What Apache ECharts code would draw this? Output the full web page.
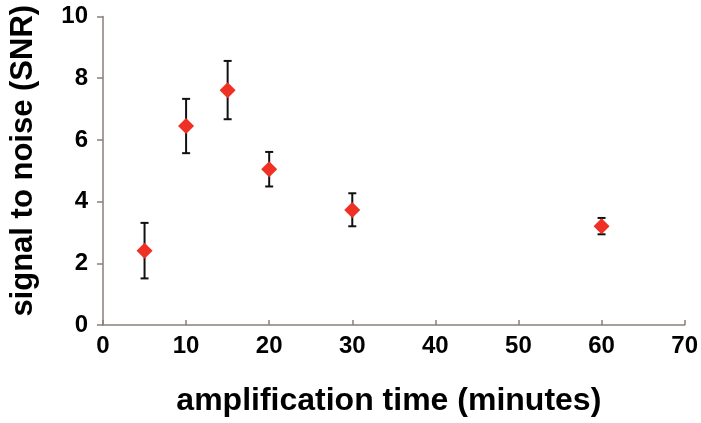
<!DOCTYPE html>
<html><head><meta charset="utf-8">
<script src="https://cdn.jsdelivr.net/npm/echarts@6/dist/echarts.min.js"></script>
<style>html,body{margin:0;padding:0;background:#fff}#c{width:701px;height:423px}</style>
</head><body><div id="c"></div>
<script>
var times = [5, 10, 15, 20, 30, 60];
var snr = [2.41, 6.45, 7.61, 5.05, 3.73, 3.20];
var errLow = [1.51, 5.57, 6.67, 4.49, 3.20, 2.94];
var errHigh = [3.31, 7.33, 8.56, 5.61, 4.27, 3.47];

var pts = times.map(function(t, i){ return [t, snr[i]]; });
var errs = times.map(function(t, i){ return [t, errLow[i], errHigh[i]]; });

var chart = echarts.init(document.getElementById('c'));
var axisColor = '#8a7d78';
var font = 'Liberation Sans, Arial, sans-serif';
chart.setOption({
  animation: false,
  grid: {left: 99, right: 15.5, top: 16.5, bottom: 98},
  xAxis: {
    type: 'value', min: 0, max: 70, interval: 10,
    name: 'amplification time (minutes)', nameLocation: 'middle', nameGap: 60,
    nameTextStyle: {color: '#000', fontSize: 32, fontWeight: 'bold', fontFamily: font, padding: [0, 10, 0, 0]},
    axisLine: {lineStyle: {color: axisColor, width: 1.5}},
    axisTick: {inside: true, length: 5, lineStyle: {color: axisColor, width: 1.5}},
    axisLabel: {color: '#000', fontSize: 24, fontWeight: 'bold', fontFamily: font, margin: 9},
    splitLine: {show: false}
  },
  yAxis: {
    type: 'value', min: 0, max: 10, interval: 2,
    name: 'signal to noise (SNR)', nameLocation: 'middle', nameGap: 64,
    nameTextStyle: {color: '#000', fontSize: 31, fontWeight: 'bold', fontFamily: font, padding: [0, 0, 0, 20]},
    axisLine: {show: true, lineStyle: {color: axisColor, width: 1.5}},
    axisTick: {show: true, length: 6, lineStyle: {color: axisColor, width: 1.5}},
    axisLabel: {color: '#000', fontSize: 24, fontWeight: 'bold', fontFamily: font, margin: 15},
    splitLine: {show: false}
  },
  series: [
    {
      type: 'custom',
      data: errs,
      z: 1,
      renderItem: function(params, api){
        var x = api.value(0);
        var lo = api.coord([x, api.value(1)]);
        var hi = api.coord([x, api.value(2)]);
        var hw = 4;
        var st = {stroke: '#111', lineWidth: 2};
        return {type: 'group', children: [
          {type: 'line', shape: {x1: lo[0], y1: lo[1], x2: hi[0], y2: hi[1]}, style: st},
          {type: 'line', shape: {x1: lo[0]-hw, y1: lo[1], x2: lo[0]+hw, y2: lo[1]}, style: st},
          {type: 'line', shape: {x1: hi[0]-hw, y1: hi[1], x2: hi[0]+hw, y2: hi[1]}, style: st}
        ]};
      }
    },
    {
      type: 'scatter',
      data: pts,
      z: 2,
      symbol: 'diamond',
      symbolSize: [16, 16],
      itemStyle: {color: '#ee3124', opacity: 1}
    }
  ]
});
</script></body></html>
